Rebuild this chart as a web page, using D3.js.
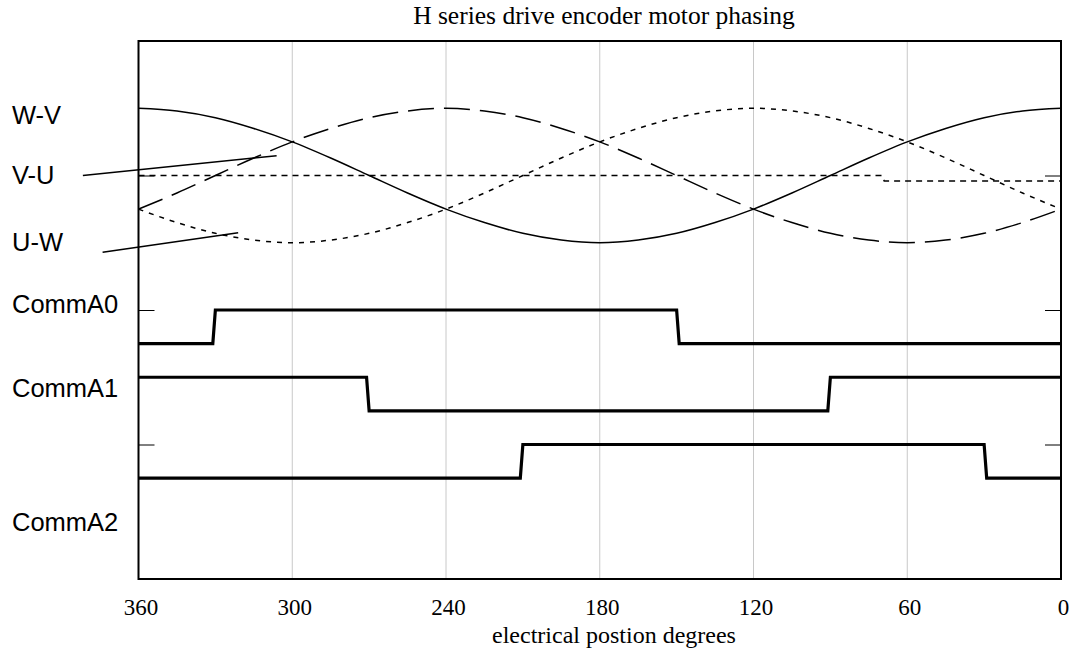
<!DOCTYPE html>
<html>
<head>
<meta charset="utf-8">
<script src="https://cdn.jsdelivr.net/npm/d3@7"></script>
<style>
  body { margin: 0; background: #fff; }
  svg { display: block; }
</style>
</head>
<body>
<script>
// Data
const degrees = [360, 345, 330, 315, 300, 285, 270, 255, 240, 225, 210, 195, 180,
                 165, 150, 135, 120, 105, 90, 75, 60, 45, 30, 15, 0];
const wv = [3.50, 3.48, 3.43, 3.35, 3.25, 3.13, 3.00, 2.87, 2.75, 2.65, 2.57, 2.52, 2.50,
            2.52, 2.57, 2.65, 2.75, 2.87, 3.00, 3.13, 3.25, 3.35, 3.43, 3.48, 3.50];
const vu = [2.75, 2.87, 3.00, 3.13, 3.25, 3.35, 3.43, 3.48, 3.50, 3.48, 3.43, 3.35, 3.25,
            3.13, 3.00, 2.87, 2.75, 2.65, 2.57, 2.52, 2.50, 2.52, 2.57, 2.65, 2.75];
const uw = [2.75, 2.65, 2.57, 2.52, 2.50, 2.52, 2.57, 2.65, 2.75, 2.87, 3.00, 3.13, 3.25,
            3.35, 3.43, 3.48, 3.50, 3.48, 3.43, 3.35, 3.25, 3.13, 3.00, 2.87, 2.75];
const midLine = [[360, 3], [70, 3], [69, 2.96], [0, 2.96]];

const commA0 = [[360, 1.75], [331, 1.75], [330, 2], [150, 2], [149, 1.75], [0, 1.75]];
const commA1 = [[360, 1.5], [271, 1.5], [270, 1.25], [91, 1.25], [90, 1.5], [0, 1.5]];
const commA2 = [[360, 0.75], [211, 0.75], [210, 1], [30, 1], [29, 0.75], [0, 0.75]];

const xTicks = [360, 300, 240, 180, 120, 60, 0];
const gridTicks = [300, 240, 180, 120, 60];
const yTicks = [1, 2, 3];

const labels = ['W-V', 'V-U', 'U-W', 'CommA0', 'CommA1', 'CommA2'];
const labelY = [124, 184, 251, 313, 397, 531];

// leader lines, in chart units [deg, value]
const leaders = [
  [[381.7, 3.0], [306.1, 3.147]],
  [[374, 2.429], [321.1, 2.575]]
];

const title = 'H series drive encoder motor phasing';
const xTitle = 'electrical postion degrees';

const W = 1073, H = 650;
const plot = {left: 138.5, right: 1061, top: 41, bottom: 579};

const svg = d3.select('body').append('svg')
  .attr('width', W)
  .attr('height', H);

const x = d3.scaleLinear().domain([360, 0]).range([plot.left, plot.right]);
const y = d3.scaleLinear().domain([0, 4]).range([plot.bottom, plot.top]);

// grid
svg.append('g').selectAll('line').data(gridTicks).enter()
  .append('line')
  .attr('x1', d => x(d)).attr('x2', d => x(d))
  .attr('y1', plot.top).attr('y2', plot.bottom)
  .attr('stroke', '#c8c8c8')
  .attr('stroke-width', 1);

// inner ticks on both sides
svg.append('g')
  .attr('transform', `translate(${plot.left},0)`)
  .call(d3.axisLeft(y).tickValues(yTicks).tickSize(-16).tickFormat(''))
  .call(g => g.select('.domain').remove())
  .call(g => g.selectAll('line').attr('stroke', '#000'));

svg.append('g')
  .attr('transform', `translate(${plot.right},0)`)
  .call(d3.axisRight(y).tickValues(yTicks).tickSize(-16).tickFormat(''))
  .call(g => g.select('.domain').remove())
  .call(g => g.selectAll('line').attr('stroke', '#000'));

// x axis labels
svg.append('g')
  .attr('transform', `translate(2,${plot.bottom})`)
  .call(d3.axisBottom(x).tickValues(xTicks).tickSize(0).tickPadding(20).tickFormat(d3.format('d')))
  .call(g => g.select('.domain').remove())
  .call(g => g.selectAll('text')
    .attr('font-family', '"Liberation Serif", "Times New Roman", serif')
    .attr('font-size', 23)
    .attr('fill', '#000'));

const pts = vals => vals.map((v, i) => [degrees[i], v]);

const curve = d3.line()
  .x(d => x(d[0]))
  .y(d => y(d[1]))
  .curve(d3.curveMonotoneX);

const straight = d3.line()
  .x(d => x(d[0]))
  .y(d => y(d[1]));

svg.append('path')
  .attr('d', straight(midLine))
  .attr('fill', 'none')
  .attr('stroke', '#000')
  .attr('stroke-width', 1.5)
  .attr('stroke-dasharray', '6,5');

svg.append('path')
  .attr('d', curve(pts(wv)))
  .attr('fill', 'none')
  .attr('stroke', '#000')
  .attr('stroke-width', 1.5);

svg.append('path')
  .attr('d', curve(pts(vu)))
  .attr('fill', 'none')
  .attr('stroke', '#000')
  .attr('stroke-width', 1.5)
  .attr('stroke-dasharray', '26,10');

svg.append('path')
  .attr('d', curve(pts(uw)))
  .attr('fill', 'none')
  .attr('stroke', '#000')
  .attr('stroke-width', 1.5)
  .attr('stroke-dasharray', '5,6');

[commA0, commA1, commA2].forEach(s => {
  svg.append('path')
    .attr('d', straight(s))
    .attr('fill', 'none')
    .attr('stroke', '#000')
    .attr('stroke-width', 3.2)
    .attr('stroke-linejoin', 'miter');
});

// leaders
svg.append('g').selectAll('path').data(leaders).enter()
  .append('path')
  .attr('d', d => straight(d))
  .attr('stroke', '#000')
  .attr('stroke-width', 1.5);

// frame
svg.append('rect')
  .attr('x', plot.left).attr('y', plot.top)
  .attr('width', plot.right - plot.left)
  .attr('height', plot.bottom - plot.top)
  .attr('fill', 'none')
  .attr('stroke', '#000')
  .attr('stroke-width', 2);

// labels
svg.append('g').selectAll('text').data(labels).enter()
  .append('text')
  .attr('x', 12)
  .attr('y', (d, i) => labelY[i])
  .attr('font-family', '"Liberation Sans", Arial, sans-serif')
  .attr('font-size', 25.5)
  .attr('fill', '#000')
  .text(d => d);

svg.append('text')
  .attr('x', 604).attr('y', 24)
  .attr('text-anchor', 'middle')
  .attr('font-family', '"Liberation Serif", "Times New Roman", serif')
  .attr('font-size', 25.5)
  .text(title);

svg.append('text')
  .attr('x', 614).attr('y', 643)
  .attr('text-anchor', 'middle')
  .attr('font-family', '"Liberation Serif", "Times New Roman", serif')
  .attr('font-size', 24)
  .text(xTitle);
</script>
</body>
</html>
